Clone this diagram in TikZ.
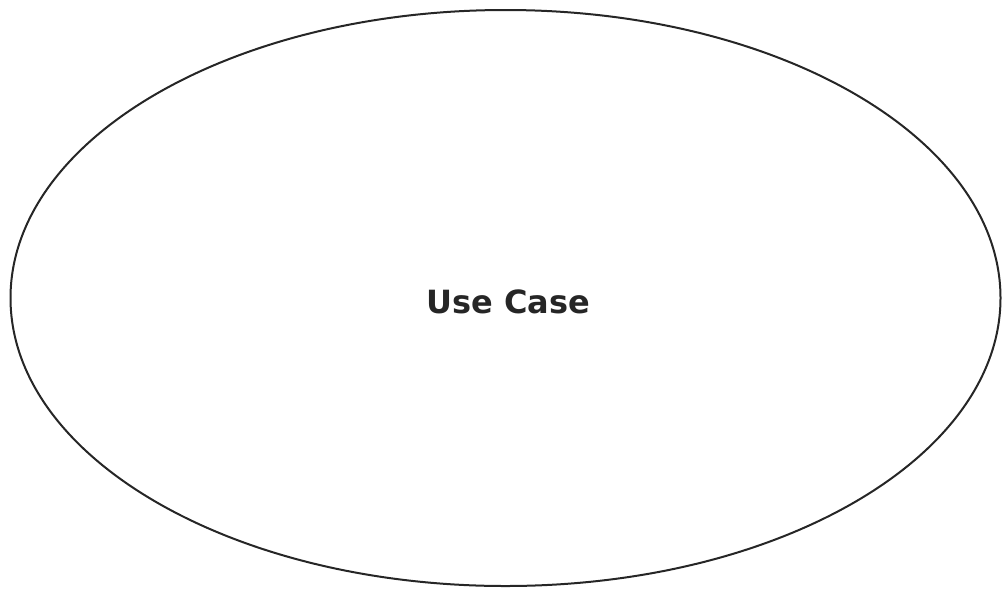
\documentclass[tikz,border=0pt]{standalone}
\usepackage{fontspec}
\setmainfont{DejaVu Sans}
\usetikzlibrary{shapes.geometric}
\begin{document}
\begin{tikzpicture}[x=1pt,y=-1pt,
  usecase/.style={draw=black!85, line width=2pt, ellipse, minimum width=990pt, minimum height=576pt, inner sep=0pt}]
\useasboundingbox (0,0) rectangle (1003,590);
\node[usecase] (uc) at (505.5,298) {};
\node[font=\bfseries\fontsize{32}{36}\selectfont, text=black!85] (lbl) at (508,302) {Use Case};
\end{tikzpicture}
\end{document}
